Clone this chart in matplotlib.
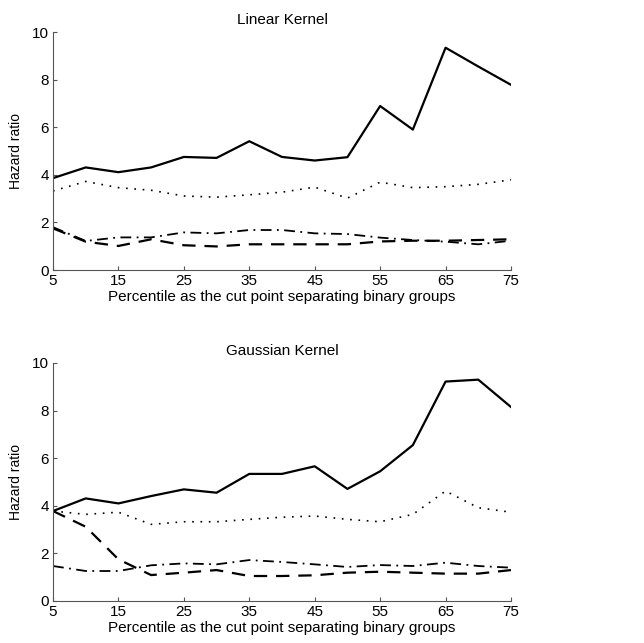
import numpy as np
import matplotlib
matplotlib.use("Agg")
import matplotlib.pyplot as plt

plt.rcParams['font.family'] = ['Liberation Sans', 'DejaVu Sans']

# percentiles (cut points)
pct = [5, 10, 15, 20, 25, 30, 35, 40, 45, 50, 55, 60, 65, 70, 75]

# Linear kernel
lin_solid = [3.86, 4.31, 4.11, 4.31, 4.75, 4.71, 5.41, 4.75, 4.60, 4.74, 6.89, 5.90, 9.34, 8.55, 7.78]
lin_dot = [3.32, 3.72, 3.46, 3.35, 3.11, 3.06, 3.16, 3.27, 3.48, 3.02, 3.69, 3.46, 3.50, 3.60, 3.79]
lin_dash = [1.75, 1.19, 1.01, 1.29, 1.04, 0.99, 1.08, 1.08, 1.08, 1.08, 1.20, 1.23, 1.23, 1.26, 1.29]
lin_dashdot = [1.80, 1.22, 1.37, 1.37, 1.58, 1.54, 1.68, 1.68, 1.54, 1.51, 1.36, 1.26, 1.19, 1.08, 1.23]

# Gaussian kernel
gau_solid = [3.78, 4.31, 4.10, 4.41, 4.69, 4.55, 5.34, 5.34, 5.66, 4.71, 5.45, 6.55, 9.22, 9.30, 8.15]
gau_dot = [3.78, 3.64, 3.73, 3.22, 3.33, 3.33, 3.43, 3.52, 3.57, 3.43, 3.33, 3.64, 4.62, 3.92, 3.73]
gau_dash = [3.78, 3.12, 1.75, 1.09, 1.19, 1.30, 1.05, 1.05, 1.08, 1.19, 1.23, 1.19, 1.15, 1.15, 1.30]
gau_dashdot = [1.47, 1.26, 1.26, 1.50, 1.58, 1.54, 1.72, 1.64, 1.54, 1.43, 1.51, 1.47, 1.61, 1.47, 1.40]

xticks = [5, 15, 25, 35, 45, 55, 65, 75]
yticks = [0, 2, 4, 6, 8, 10]

fig = plt.figure(figsize=(6.44, 6.43), dpi=100)
W, H = 644.0, 643.0

def panel(top, title, solid, dot, dash, dashdot):
    ax = fig.add_axes([53 / W, 1 - (top + 238) / H, 458 / W, 238 / H])
    ax.plot(pct, solid, color='black', lw=1.6, ls='-')
    ax.plot(pct, dot, color='black', lw=1.2, ls=(0, (1, 4)))
    ax.plot(pct, dash, color='black', lw=1.6, ls=(0, (6, 4)))
    ax.plot(pct, dashdot, color='black', lw=1.3, ls=(0, (6, 3, 1, 3)))
    ax.set_xlim(5, 75)
    ax.set_ylim(0, 10)
    ax.set_xticks(xticks)
    ax.set_yticks(yticks)
    ax.spines['top'].set_visible(False)
    ax.spines['right'].set_visible(False)
    for s in ['left', 'bottom']:
        ax.spines[s].set_color('#555555')
        ax.spines[s].set_linewidth(0.8)
    ax.tick_params(direction='in', length=3, width=0.8, color='#555555',
                   labelsize=11)
    ax.tick_params(axis='x', pad=3)
    ax.tick_params(axis='y', pad=3)
    ax.set_title(title, fontsize=11, pad=6)
    ax.set_xlabel('Percentile as the cut point separating binary groups', fontsize=11, labelpad=1)
    ax.set_ylabel('Hazard ratio', fontsize=10, labelpad=6)
    return ax

panel(32, 'Linear Kernel', lin_solid, lin_dot, lin_dash, lin_dashdot)
panel(363, 'Gaussian Kernel', gau_solid, gau_dot, gau_dash, gau_dashdot)

fig.savefig('out.png', dpi=100)
